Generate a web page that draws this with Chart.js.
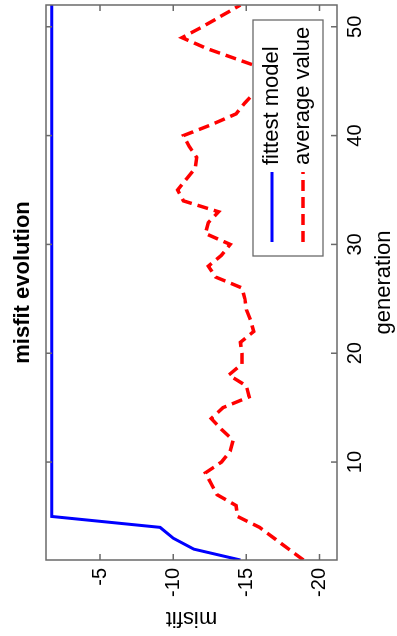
<!DOCTYPE html>
<html>
<head>
<meta charset="utf-8">
<script src="https://cdn.jsdelivr.net/npm/chart.js@4/dist/chart.umd.min.js"></script>
<style>
  html, body { margin: 0; padding: 0; background: #fff; overflow: hidden; }
  #giro {
    position: absolute; left: 0; top: 0;
    width: 636px; height: 397px;
    transform-origin: 0 0;
    transform: translate(0px, 636px) rotate(-90deg);
  }
</style>
</head>
<body>
<div id="giro"><canvas id="grafico-misfit" width="636" height="397"></canvas></div>
<script>
// datos
const generaciones = [1, 2, 3, 4, 5, 6, 7, 8, 9, 10, 11, 12, 13, 14, 15, 16, 17, 18, 19, 20,
    21, 22, 23, 24, 25, 26, 27, 28, 29, 30, 31, 32, 33, 34, 35, 36, 37, 38, 39, 40,
    41, 42, 43, 44, 45, 46, 47, 48, 49, 50, 51, 52];

const mejorModelo = [-14.6, -11.4, -10.0, -9.1, -1.7, -1.7, -1.7, -1.7, -1.7, -1.7,
    -1.7, -1.7, -1.7, -1.7, -1.7, -1.7, -1.7, -1.7, -1.7, -1.7,
    -1.7, -1.7, -1.7, -1.7, -1.7, -1.7, -1.7, -1.7, -1.7, -1.7,
    -1.7, -1.7, -1.7, -1.7, -1.7, -1.7, -1.7, -1.7, -1.7, -1.7,
    -1.7, -1.7, -1.7, -1.7, -1.7, -1.7, -1.7, -1.7, -1.7, -1.7,
    -1.7, -1.7];

const valorMedio = [-18.9, -17.9, -16.9, -15.9, -14.4, -14.3, -13.0, -12.6, -12.2, -13.3,
    -13.9, -14.1, -13.3, -12.6, -13.4, -15.2, -15.0, -13.8, -14.7, -14.7,
    -14.6, -15.5, -15.3, -15.0, -14.9, -14.7, -12.9, -12.4, -13.3, -13.9,
    -12.2, -12.4, -13.1, -10.7, -10.3, -10.9, -11.5, -11.6, -11.1, -10.7,
    -12.6, -14.3, -14.9, -15.6, -16.8, -16.5, -14.4, -12.3, -10.6, -12.0,
    -13.3, -14.6];

const ticksGeneracion = [10, 20, 30, 40, 50];
const ticksMisfit = [-20, -15, -10, -5];

const fuente = "'Liberation Sans', Arial, Helvetica, sans-serif";

/* =========================
   CAJA, MARCAS Y LEYENDA
   ========================= */
const cajaEstiloMatlab = {
    id: "cajaEstiloMatlab",
    afterDatasetsDraw(chart) {
        const { ctx, chartArea: a, scales: { x, y } } = chart;
        ctx.save();
        ctx.strokeStyle = "#6a6a6a";
        ctx.lineWidth = 1.5;
        ctx.strokeRect(a.left, a.top, a.width, a.height);

        ctx.beginPath();
        x.ticks.forEach(t => {
            const px = x.getPixelForValue(t.value);
            ctx.moveTo(px, a.bottom); ctx.lineTo(px, a.bottom - 6);
            ctx.moveTo(px, a.top); ctx.lineTo(px, a.top + 6);
        });
        y.ticks.forEach(t => {
            const py = y.getPixelForValue(t.value);
            ctx.moveTo(a.left, py); ctx.lineTo(a.left + 6, py);
            ctx.moveTo(a.right, py); ctx.lineTo(a.right - 6, py);
        });
        ctx.stroke();

        // leyenda abajo a la derecha
        const ancho = 236, alto = 70;
        const lx = a.right - 15 - ancho;
        const ly = a.bottom - 14 - alto;
        ctx.fillStyle = "#fff";
        ctx.fillRect(lx, ly, ancho, alto);
        ctx.lineWidth = 1.3;
        ctx.strokeStyle = "#6a6a6a";
        ctx.strokeRect(lx, ly, ancho, alto);

        ctx.font = "22px " + fuente;
        ctx.fillStyle = "#000";
        ctx.textBaseline = "middle";
        chart.data.datasets.forEach((ds, i) => {
            const fy = ly + 19 + i * 31;
            ctx.beginPath();
            ctx.strokeStyle = ds.borderColor;
            ctx.lineWidth = ds.borderWidth;
            ctx.setLineDash(ds.borderDash || []);
            ctx.moveTo(lx + 14, fy);
            ctx.lineTo(lx + 84, fy);
            ctx.stroke();
            ctx.setLineDash([]);
            ctx.fillText(ds.label, lx + 91, fy);
        });
        ctx.restore();
    }
};

const contextoGrafico = document.getElementById("grafico-misfit").getContext("2d");

new Chart(contextoGrafico, {
    type: "line",
    data: {
        datasets: [{
            label: "fittest model",
            data: generaciones.map((g, i) => ({ x: g, y: mejorModelo[i] })),
            borderColor: "#0000ff",
            borderWidth: 3,
            pointRadius: 0,
            tension: 0,
            clip: 0
        }, {
            label: "average value",
            data: generaciones.map((g, i) => ({ x: g, y: valorMedio[i] })),
            borderColor: "#ff0000",
            borderWidth: 3.5,
            borderDash: [11, 6],
            pointRadius: 0,
            tension: 0,
            clip: 0
        }]
    },
    options: {
        responsive: false,
        animation: false,
        devicePixelRatio: 1,
        layout: { padding: { left: 0, right: 5, top: 0, bottom: 0 } },
        plugins: {
            legend: { display: false },
            tooltip: { enabled: false },
            title: {
                display: true,
                fullSize: false,
                text: "misfit evolution",
                color: "#000",
                font: { family: fuente, size: 22, weight: "bold" },
                padding: { top: 10, bottom: 9.6 }
            }
        },
        scales: {
            x: {
                type: "linear",
                min: 1,
                max: 52,
                grid: { display: false, drawTicks: false },
                border: { display: false },
                afterBuildTicks: s => { s.ticks = ticksGeneracion.map(v => ({ value: v })); },
                afterFit: s => { s.height = 60; },
                ticks: {
                    color: "#000",
                    padding: 6,
                    maxRotation: 0,
                    font: { family: fuente, size: 20 }
                },
                title: {
                    display: true,
                    text: "generation",
                    color: "#000",
                    padding: { top: 0, bottom: 0 },
                    font: { family: fuente, size: 22 }
                }
            },
            y: {
                type: "linear",
                min: -21.2,
                max: -1.3,
                grid: { display: false, drawTicks: false },
                border: { display: false },
                afterBuildTicks: s => { s.ticks = ticksMisfit.map(v => ({ value: v })); },
                afterFit: s => { s.width = 76; },
                ticks: {
                    color: "#000",
                    padding: 8,
                    font: { family: fuente, size: 20 }
                },
                title: {
                    display: true,
                    text: "misfit",
                    color: "#000",
                    padding: { top: 5, bottom: 0 },
                    font: { family: fuente, size: 22 }
                }
            }
        }
    },
    plugins: [cajaEstiloMatlab]
});
</script>
</body>
</html>
